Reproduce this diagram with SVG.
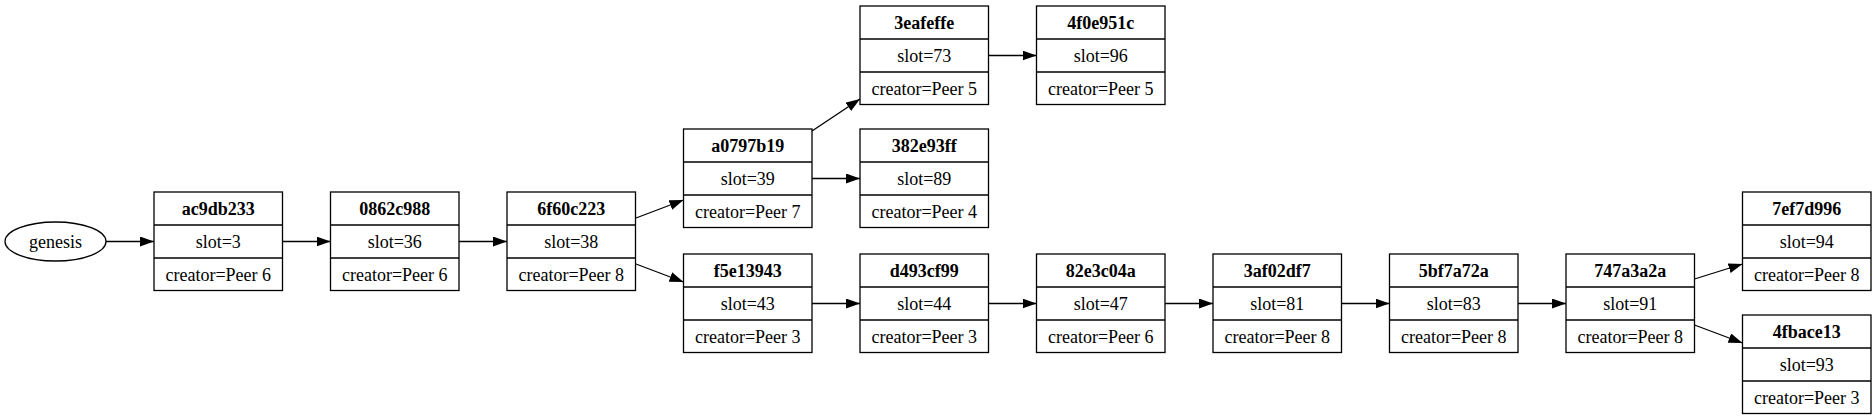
<svg xmlns="http://www.w3.org/2000/svg" width="1875" height="419" viewBox="0 0 1875 419">
<style>
.box{fill:#fff;stroke:#000;stroke-width:1.3}
.div{stroke:#000;stroke-width:1.3}
.lbl{font-family:"Liberation Serif","Times New Roman","DejaVu Serif",serif;font-size:18px;font-weight:normal;font-style:normal;text-anchor:middle;fill:#000}
.t{font-weight:bold}
.edge{stroke:#000;stroke-width:1.3;fill:none}
</style>
<defs>
<marker id="ah" markerUnits="userSpaceOnUse" markerWidth="15" markerHeight="11" refX="14" refY="5" orient="auto">
<path d="M0,0 L14,5 L0,10 z" fill="#000"/>
</marker>
<g id="box"><rect class="box" x="0" y="0" width="128.5" height="98.5"/><line class="div" x1="0" y1="33" x2="128.5" y2="33"/><line class="div" x1="0" y1="66" x2="128.5" y2="66"/></g>
</defs>
<rect width="1875" height="419" fill="#fff"/>
<g id="connectors">
<line class="edge" marker-end="url(#ah)" x1="106" y1="241.5" x2="154" y2="241.5"/>
<line class="edge" marker-end="url(#ah)" x1="282.5" y1="241.5" x2="330.5" y2="241.5"/>
<line class="edge" marker-end="url(#ah)" x1="459" y1="241.5" x2="507" y2="241.5"/>
<line class="edge" marker-end="url(#ah)" x1="636" y1="218" x2="683.5" y2="200"/>
<line class="edge" marker-end="url(#ah)" x1="636" y1="264" x2="683.5" y2="282"/>
<line class="edge" marker-end="url(#ah)" x1="812" y1="131" x2="860" y2="99"/>
<line class="edge" marker-end="url(#ah)" x1="812" y1="178.5" x2="860" y2="178.5"/>
<line class="edge" marker-end="url(#ah)" x1="988.5" y1="55.5" x2="1036.5" y2="55.5"/>
<line class="edge" marker-end="url(#ah)" x1="812" y1="303.5" x2="860" y2="303.5"/>
<line class="edge" marker-end="url(#ah)" x1="988.5" y1="303.5" x2="1036.5" y2="303.5"/>
<line class="edge" marker-end="url(#ah)" x1="1165" y1="303.5" x2="1213" y2="303.5"/>
<line class="edge" marker-end="url(#ah)" x1="1341.5" y1="303.5" x2="1389.5" y2="303.5"/>
<line class="edge" marker-end="url(#ah)" x1="1518" y1="303.5" x2="1566" y2="303.5"/>
<line class="edge" marker-end="url(#ah)" x1="1694.5" y1="279" x2="1742.5" y2="264"/>
<line class="edge" marker-end="url(#ah)" x1="1694.5" y1="325" x2="1742.5" y2="343"/>
</g>
<g id="genesis"><ellipse cx="55.5" cy="241.5" rx="50.5" ry="19.5" fill="#fff" stroke="#000" stroke-width="1.3"/><text class="lbl" x="55.5" y="247.5">genesis</text></g>
<g id="ac9db233" transform="translate(154,192)"><use href="#box"/><text class="lbl t" x="64.25" y="22.5">ac9db233</text><text class="lbl" x="64.25" y="55.5">slot=3</text><text class="lbl" x="64.25" y="88.5">creator=Peer 6</text></g>
<g id="n0862c988" transform="translate(330.5,192)"><use href="#box"/><text class="lbl t" x="64.25" y="22.5">0862c988</text><text class="lbl" x="64.25" y="55.5">slot=36</text><text class="lbl" x="64.25" y="88.5">creator=Peer 6</text></g>
<g id="n6f60c223" transform="translate(507,192)"><use href="#box"/><text class="lbl t" x="64.25" y="22.5">6f60c223</text><text class="lbl" x="64.25" y="55.5">slot=38</text><text class="lbl" x="64.25" y="88.5">creator=Peer 8</text></g>
<g id="a0797b19" transform="translate(683.5,129)"><use href="#box"/><text class="lbl t" x="64.25" y="22.5">a0797b19</text><text class="lbl" x="64.25" y="55.5">slot=39</text><text class="lbl" x="64.25" y="88.5">creator=Peer 7</text></g>
<g id="f5e13943" transform="translate(683.5,254)"><use href="#box"/><text class="lbl t" x="64.25" y="22.5">f5e13943</text><text class="lbl" x="64.25" y="55.5">slot=43</text><text class="lbl" x="64.25" y="88.5">creator=Peer 3</text></g>
<g id="n3eafeffe" transform="translate(860,6)"><use href="#box"/><text class="lbl t" x="64.25" y="22.5">3eafeffe</text><text class="lbl" x="64.25" y="55.5">slot=73</text><text class="lbl" x="64.25" y="88.5">creator=Peer 5</text></g>
<g id="n382e93ff" transform="translate(860,129)"><use href="#box"/><text class="lbl t" x="64.25" y="22.5">382e93ff</text><text class="lbl" x="64.25" y="55.5">slot=89</text><text class="lbl" x="64.25" y="88.5">creator=Peer 4</text></g>
<g id="n4f0e951c" transform="translate(1036.5,6)"><use href="#box"/><text class="lbl t" x="64.25" y="22.5">4f0e951c</text><text class="lbl" x="64.25" y="55.5">slot=96</text><text class="lbl" x="64.25" y="88.5">creator=Peer 5</text></g>
<g id="d493cf99" transform="translate(860,254)"><use href="#box"/><text class="lbl t" x="64.25" y="22.5">d493cf99</text><text class="lbl" x="64.25" y="55.5">slot=44</text><text class="lbl" x="64.25" y="88.5">creator=Peer 3</text></g>
<g id="n82e3c04a" transform="translate(1036.5,254)"><use href="#box"/><text class="lbl t" x="64.25" y="22.5">82e3c04a</text><text class="lbl" x="64.25" y="55.5">slot=47</text><text class="lbl" x="64.25" y="88.5">creator=Peer 6</text></g>
<g id="n3af02df7" transform="translate(1213,254)"><use href="#box"/><text class="lbl t" x="64.25" y="22.5">3af02df7</text><text class="lbl" x="64.25" y="55.5">slot=81</text><text class="lbl" x="64.25" y="88.5">creator=Peer 8</text></g>
<g id="n5bf7a72a" transform="translate(1389.5,254)"><use href="#box"/><text class="lbl t" x="64.25" y="22.5">5bf7a72a</text><text class="lbl" x="64.25" y="55.5">slot=83</text><text class="lbl" x="64.25" y="88.5">creator=Peer 8</text></g>
<g id="n747a3a2a" transform="translate(1566,254)"><use href="#box"/><text class="lbl t" x="64.25" y="22.5">747a3a2a</text><text class="lbl" x="64.25" y="55.5">slot=91</text><text class="lbl" x="64.25" y="88.5">creator=Peer 8</text></g>
<g id="n7ef7d996" transform="translate(1742.5,192)"><use href="#box"/><text class="lbl t" x="64.25" y="22.5">7ef7d996</text><text class="lbl" x="64.25" y="55.5">slot=94</text><text class="lbl" x="64.25" y="88.5">creator=Peer 8</text></g>
<g id="n4fbace13" transform="translate(1742.5,315)"><use href="#box"/><text class="lbl t" x="64.25" y="22.5">4fbace13</text><text class="lbl" x="64.25" y="55.5">slot=93</text><text class="lbl" x="64.25" y="88.5">creator=Peer 3</text></g>
</svg>
